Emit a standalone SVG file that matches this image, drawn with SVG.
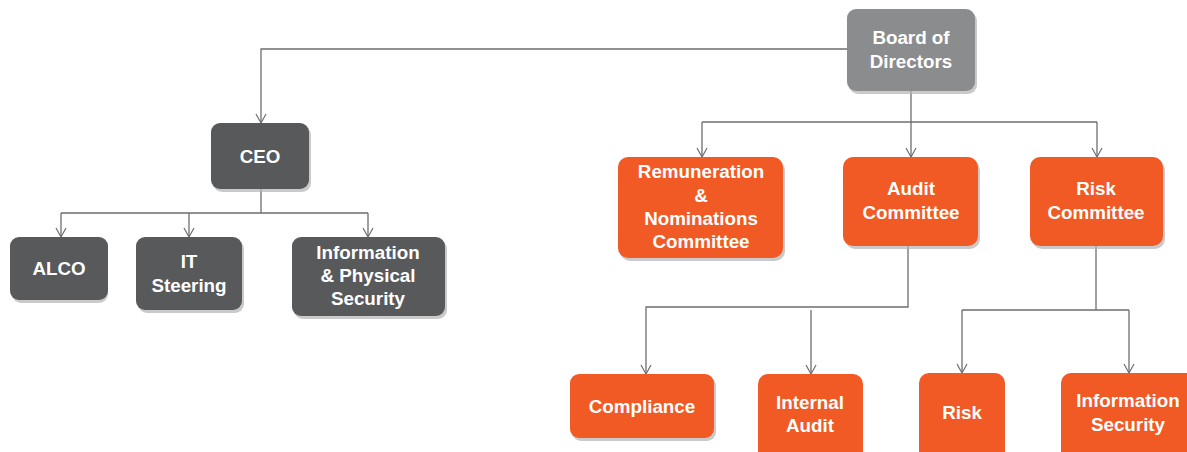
<svg xmlns="http://www.w3.org/2000/svg" width="1187" height="452" viewBox="0 0 1187 452">
<defs>
<marker id="arr" viewBox="0 0 12 12" refX="11" refY="6" markerWidth="12" markerHeight="12" markerUnits="userSpaceOnUse" orient="auto">
<path d="M2,1 L11,6 L2,11" fill="none" stroke="#6d6e70" stroke-width="1.2"/>
</marker>
<style>
.sh{fill:#b3b3b3;opacity:0.7}
.gray{fill:#8b8c8e}
.dark{fill:#58595b}
.org{fill:#f15a24}
text{font-family:"Liberation Sans",Arial,sans-serif;font-weight:bold;font-size:18.8px;fill:#ffffff;text-anchor:middle}
.c{fill:none;stroke:#6d6e70;stroke-width:1.3}
</style>
</defs>
<rect width="1187" height="452" fill="#ffffff"/>
<g id="connectors">
<path class="c" d="M847,49 H261 V123" marker-end="url(#arr)"/>
<path class="c" d="M261,189 V213 M61,213 H368"/>
<path class="c" d="M61,213 V237" marker-end="url(#arr)"/>
<path class="c" d="M189,213 V237" marker-end="url(#arr)"/>
<path class="c" d="M368,213 V237" marker-end="url(#arr)"/>
<path class="c" d="M911,91 V157" marker-end="url(#arr)"/>
<path class="c" d="M702,122 H1097"/>
<path class="c" d="M702,122 V157" marker-end="url(#arr)"/>
<path class="c" d="M1097,122 V157" marker-end="url(#arr)"/>
<path class="c" d="M908,246 V307 H646 V374" marker-end="url(#arr)"/>
<path class="c" d="M811,310 V374" marker-end="url(#arr)"/>
<path class="c" d="M1096,246 V310 M962,310 H1129"/>
<path class="c" d="M962,310 V373" marker-end="url(#arr)"/>
<path class="c" d="M1129,310 V373" marker-end="url(#arr)"/>
</g>
<g id="board">
<rect class="sh" x="849" y="12" width="128" height="82" rx="9"/>
<rect class="gray" x="847" y="9" width="128" height="82" rx="9"/>
<text x="911" y="44">Board of</text>
<text x="911" y="68">Directors</text>
</g>
<g id="ceo">
<rect class="sh" x="213" y="126" width="98" height="66" rx="9"/>
<rect class="dark" x="211" y="123" width="98" height="66" rx="9"/>
<text x="260" y="163">CEO</text>
</g>
<g id="alco">
<rect class="sh" x="12" y="240" width="96" height="63" rx="9"/>
<rect class="dark" x="10" y="237" width="98" height="63" rx="9"/>
<text x="59" y="275">ALCO</text>
</g>
<g id="it">
<rect class="sh" x="138" y="240" width="106" height="73" rx="9"/>
<rect class="dark" x="136" y="237" width="106" height="73" rx="9"/>
<text x="189" y="268">IT</text>
<text x="189" y="292">Steering</text>
</g>
<g id="infophys">
<rect class="sh" x="294" y="240" width="153" height="79" rx="9"/>
<rect class="dark" x="292" y="237" width="153" height="79" rx="9"/>
<text x="368" y="259">Information</text>
<text x="368" y="282">&amp; Physical</text>
<text x="368" y="305">Security</text>
</g>
<g id="remuneration">
<rect class="sh" x="620" y="160" width="165" height="101" rx="10"/>
<rect class="org" x="618" y="157" width="165" height="101" rx="10"/>
<text x="701" y="178">Remuneration</text>
<text x="701" y="202">&amp;</text>
<text x="701" y="225">Nominations</text>
<text x="701" y="248">Committee</text>
</g>
<g id="audit">
<rect class="sh" x="845" y="160" width="135" height="89" rx="10"/>
<rect class="org" x="843" y="157" width="135" height="89" rx="10"/>
<text x="911" y="195">Audit</text>
<text x="911" y="219">Committee</text>
</g>
<g id="risk">
<rect class="sh" x="1032" y="160" width="133" height="89" rx="10"/>
<rect class="org" x="1030" y="157" width="133" height="89" rx="10"/>
<text x="1096" y="195">Risk</text>
<text x="1096" y="219">Committee</text>
</g>
<g id="compliance">
<rect class="sh" x="572" y="377" width="144" height="64" rx="9"/>
<rect class="org" x="570" y="374" width="144" height="64" rx="9"/>
<text x="642" y="413">Compliance</text>
</g>
<g id="internalaudit">
<rect class="org" x="758" y="374" width="105" height="90" rx="10"/>
<text x="810" y="409">Internal</text>
<text x="810" y="432">Audit</text>
</g>
<g id="riskbox">
<rect class="org" x="919" y="373" width="86" height="90" rx="10"/>
<text x="962" y="419">Risk</text>
</g>
<g id="infosec">
<rect class="org" x="1061" y="373" width="140" height="90" rx="10"/>
<text x="1128" y="407">Information</text>
<text x="1128" y="431">Security</text>
</g>
</svg>
